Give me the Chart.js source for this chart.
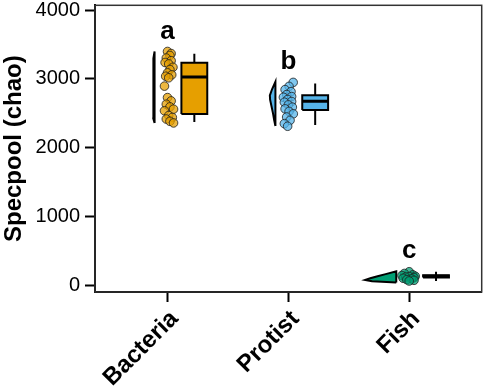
<!DOCTYPE html>
<html lang="en">
<head>
<meta charset="UTF-8">
<title>Specpool (chao)</title>
<script src="https://cdn.jsdelivr.net/npm/chart.js@4.4.0/dist/chart.umd.min.js"></script>
<style>
  html, body { margin: 0; padding: 0; background: #fff; }
  #wrap { width: 487px; height: 392px; }
</style>
</head>
<body>
<div id="wrap"><canvas id="chart"></canvas></div>
<script>
// categories and labels
const groups = ['Bacteria', 'Protist', 'Fish'];
const sigLetters = ['a', 'b', 'c'];
const sigLetterY = [3583, 3151, 388];
const yTicks = [0, 1000, 2000, 3000, 4000];

// raw points: value + horizontal jitter (in category units)
const bacteriaValues = [3400, 3370, 3342, 3305, 3266, 3240, 3219, 3170, 3137, 3089, 3060, 3040, 3017, 2896,
                        2729, 2681, 2633, 2594, 2561, 2537, 2468, 2440, 2417, 2384, 2360];
const bacteriaJitter = [0.00, 0.03, 0.02, -0.01, 0.03, -0.02, 0.01, 0.045, 0.02, 0.00, 0.035, -0.015, 0.01, -0.025,
                        0.00, 0.03, -0.01, 0.02, 0.05, -0.025, 0.01, 0.04, -0.01, 0.02, 0.05];
const protistValues = [2950, 2892, 2845, 2816, 2773, 2744, 2734, 2701, 2672, 2662, 2623, 2590, 2565, 2528, 2493, 2446, 2398, 2350, 2312];
const protistJitter = [0.04, 0.006, -0.027, 0.022, -0.014, 0.027, -0.041, -0.006, 0.027, -0.033, 0.0, 0.033, -0.027, 0.006, 0.041, -0.014, 0.014, -0.033, -0.006];
const fishValues = [195, 170, 150, 140, 130, 125, 118, 110, 100, 90, 80, 70, 60];
const fishJitter = [0.0, -0.04, 0.03, -0.06, 0.05, 0.0, -0.03, 0.04, -0.05, 0.02, -0.02, 0.04, 0.0];

// box statistics per group
const boxMin = [2374, 2331, 60];
const boxQ1 = [2489, 2547, 112];
const boxMedian = [3030, 2676, 128];
const boxQ3 = [3237, 2763, 142];
const boxMax = [3367, 2935, 195];

// half-violin outlines: value levels and widths (category units)
const bacteriaViolinY = [2360, 2420, 2550, 2700, 2850, 3000, 3150, 3300, 3400];
const bacteriaViolinW = [0, 0.01, 0.012, 0.009, 0.007, 0.009, 0.012, 0.01, 0];
const protistViolinY = [2315, 2400, 2500, 2600, 2700, 2760, 2850, 2960];
const protistViolinW = [0, 0.01, 0.02, 0.032, 0.044, 0.046, 0.028, 0];
const fishViolinY = [40, 55, 75, 100, 130, 160, 200];
const fishViolinW = [0, 0.2, 0.258, 0.215, 0.155, 0.088, 0];

// styling
const fills = ['#E69F00', '#56B4E9', '#009E73'];
const pointFills = ['rgba(230,159,0,0.75)', 'rgba(86,180,233,0.75)', 'rgba(0,158,115,0.75)'];
const VIOLIN_OFFSET = -0.107;
const BOX_OFFSET = 0.222;
const BOX_HALF = 0.107;
const FONT = "'Liberation Sans', Arial, Helvetica, sans-serif";

Chart.defaults.font.family = FONT;
Chart.defaults.color = '#000';

const pointSets = [
  [bacteriaValues, bacteriaJitter],
  [protistValues, protistJitter],
  [fishValues, fishJitter]
];
const violinSets = [
  [bacteriaViolinY, bacteriaViolinW],
  [protistViolinY, protistViolinW],
  [fishViolinY, fishViolinW]
];

function violinShape(center, ys, ws) {
  const flat = center + VIOLIN_OFFSET;
  const pts = ys.map((y, i) => ({ x: flat - ws[i], y: y }));
  pts.push({ x: flat, y: ys[ys.length - 1] });
  pts.push({ x: flat, y: ys[0] });
  pts.push({ x: pts[0].x, y: pts[0].y });
  return pts;
}

function boxShape(center, q1, q3) {
  const x1 = center + BOX_OFFSET - BOX_HALF, x2 = center + BOX_OFFSET + BOX_HALF;
  return [{ x: x1, y: q1 }, { x: x1, y: q3 }, { x: x2, y: q3 }, { x: x2, y: q1 }, { x: x1, y: q1 }];
}

const datasets = [];
groups.forEach((g, i) => {
  const c = i + 1;
  const shape = { type: 'line', pointRadius: 0, borderColor: '#000', borderWidth: 2, tension: 0, borderJoinStyle: 'miter' };
  // whisker
  datasets.push(Object.assign({}, shape, {
    data: [{ x: c + BOX_OFFSET, y: boxMin[i] }, { x: c + BOX_OFFSET, y: boxMax[i] }],
    fill: false, order: 5
  }));
  // box
  datasets.push(Object.assign({}, shape, {
    data: boxShape(c, boxQ1[i], boxQ3[i]),
    fill: 'shape', backgroundColor: fills[i], order: 4
  }));
  // median
  datasets.push(Object.assign({}, shape, {
    data: [{ x: c + BOX_OFFSET - BOX_HALF, y: boxMedian[i] }, { x: c + BOX_OFFSET + BOX_HALF, y: boxMedian[i] }],
    fill: false, borderWidth: 3, order: 3
  }));
  // half violin
  datasets.push(Object.assign({}, shape, {
    data: violinShape(c, violinSets[i][0], violinSets[i][1]),
    fill: 'shape', backgroundColor: fills[i], order: 4
  }));
  // jittered points
  datasets.push({
    type: 'scatter',
    data: pointSets[i][0].map((v, k) => ({ x: c + pointSets[i][1][k], y: v })),
    pointRadius: 4.3,
    backgroundColor: pointFills[i],
    borderColor: 'rgba(30,30,30,0.8)',
    borderWidth: 1,
    order: 1
  });
});

// frame around the panel + significance letters
const panelExtras = {
  id: 'panelExtras',
  afterDatasetsDraw(chart) {
    const { ctx, chartArea, scales } = chart;
    ctx.save();
    ctx.strokeStyle = '#333';
    ctx.lineWidth = 1.5;
    ctx.strokeRect(chartArea.left, chartArea.top, chartArea.right - chartArea.left, chartArea.bottom - chartArea.top);
    ctx.fillStyle = '#000';
    ctx.font = 'bold 26px ' + FONT;
    ctx.textAlign = 'center';
    ctx.textBaseline = 'alphabetic';
    sigLetters.forEach((t, i) => {
      ctx.fillText(t, scales.x.getPixelForValue(i + 1), scales.y.getPixelForValue(sigLetterY[i]));
    });
    ctx.restore();
  }
};

new Chart(document.getElementById('chart'), {
  type: 'scatter',
  data: { datasets: datasets },
  options: {
    responsive: true,
    maintainAspectRatio: false,
    animation: false,
    layout: { padding: { top: 2, right: 2, left: 0, bottom: 0 } },
    plugins: { legend: { display: false }, tooltip: { enabled: false } },
    scales: {
      x: {
        type: 'linear',
        min: 0.4,
        max: 3.6,
        afterBuildTicks: s => { s.ticks = groups.map((g, i) => ({ value: i + 1 })); },
        afterFit: s => { s.height = 100; s.paddingLeft = 0; s.paddingRight = 0; },
        ticks: {
          callback: (v) => groups[Math.round(v) - 1],
          font: { size: 24, weight: 'bold' },
          color: '#000',
          minRotation: 45,
          maxRotation: 45,
          autoSkip: false,
          labelOffset: 7,
          padding: 3
        },
        grid: { drawOnChartArea: false, drawTicks: true, tickLength: 10, tickWidth: 2, tickColor: '#000' },
        border: { display: true, color: '#000', width: 2 }
      },
      y: {
        type: 'linear',
        min: -100,
        max: 4072,
        afterBuildTicks: s => { s.ticks = yTicks.map(v => ({ value: v })); },
        afterFit: s => { s.width = 95; s.paddingTop = 0; s.paddingBottom = 0; },
        ticks: { font: { size: 20 }, color: '#000', padding: 5, callback: v => String(v) },
        grid: { drawOnChartArea: false, drawTicks: true, tickLength: 10, tickWidth: 2, tickColor: '#000' },
        border: { display: true, color: '#000', width: 2 },
        title: { display: true, text: 'Specpool (chao)', font: { size: 24, weight: 'bold' }, color: '#000', padding: 0 }
      }
    }
  },
  plugins: [panelExtras]
});
</script>
</body>
</html>
